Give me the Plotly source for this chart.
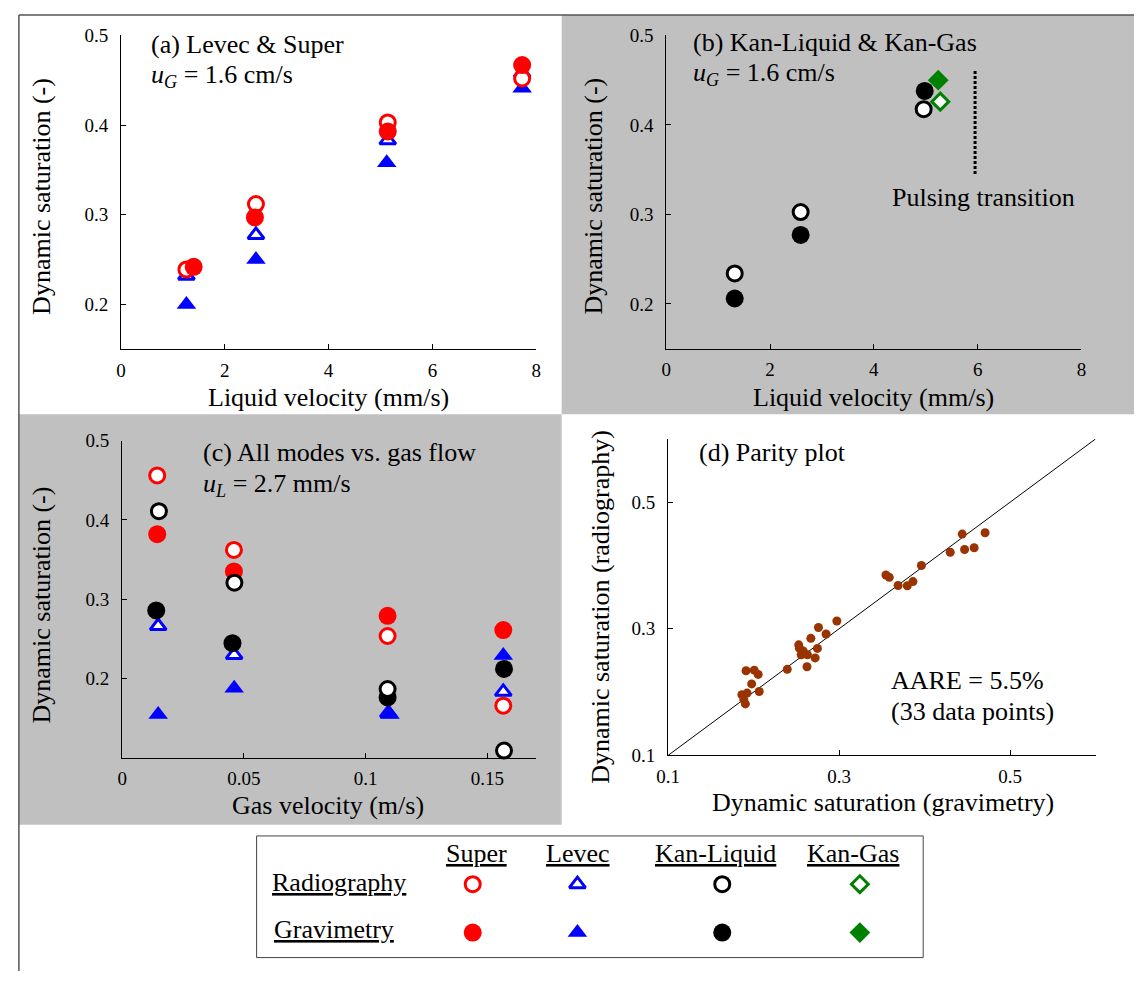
import plotly.graph_objects as go

W, H = 1139, 982
FONT = "Liberation Serif, Times New Roman, serif"

RED, BLUE, BLACK, GREEN, BROWN = "#ff0000", "#0000ff", "#000000", "#008000", "#993300"
GRAY = "#c0c0c0"

# ---------------- Panel (a): Levec & Super, uG = 1.6 cm/s ----------------
a_super_rad_x = [1.26, 2.60, 5.14, 7.73]
a_super_rad_y = [0.239, 0.312, 0.403, 0.452]
a_super_grav_x = [1.40, 2.58, 5.14, 7.73]
a_super_grav_y = [0.242, 0.297, 0.393, 0.467]
a_levec_rad_x = [1.26, 2.60, 5.14, 7.73]
a_levec_rad_y = [0.232, 0.2775, 0.383, 0.458]
a_levec_grav_x = [1.26, 2.60, 5.12, 7.73]
a_levec_grav_y = [0.200, 0.250, 0.358, 0.441]

# ---------------- Panel (b): Kan-Liquid & Kan-Gas ----------------
b_kl_rad_x = [1.32, 2.59, 4.96]
b_kl_rad_y = [0.234, 0.3026, 0.4176]
b_kl_grav_x = [1.32, 2.59, 4.98]
b_kl_grav_y = [0.206, 0.277, 0.438]
b_kg_rad_x = [5.28]
b_kg_rad_y = [0.426]
b_kg_grav_x = [5.24]
b_kg_grav_y = [0.450]
b_pulse_x = [5.95, 5.95]
b_pulse_y = [0.345, 0.462]

# ---------------- Panel (c): all modes vs gas flow, uL = 2.7 mm/s ----------------
c_super_rad_x = [0.0144, 0.0459, 0.109, 0.1565]
c_super_rad_y = [0.456, 0.362, 0.2535, 0.1656]
c_super_grav_x = [0.0144, 0.0459, 0.109, 0.1565]
c_super_grav_y = [0.382, 0.335, 0.279, 0.261]
c_kl_rad_x = [0.0151, 0.0461, 0.109, 0.1568]
c_kl_rad_y = [0.411, 0.3207, 0.1866, 0.109]
c_kl_grav_x = [0.0140, 0.0453, 0.109, 0.1568]
c_kl_grav_y = [0.2857, 0.2444, 0.176, 0.212]
c_levec_rad_x = [0.0148, 0.0460, 0.1093, 0.1565]
c_levec_rad_y = [0.266, 0.2296, 0.156, 0.183]
c_levec_grav_x = [0.0148, 0.0460, 0.1100, 0.1565]
c_levec_grav_y = [0.1545, 0.1875, 0.1545, 0.229]

# ---------------- Panel (d): parity plot ----------------
d_grav = [0.4708, 0.444, 0.430, 0.4468, 0.458, 0.3963, 0.3548, 0.3587, 0.369, 0.3798, 0.3864,
          0.2974, 0.2759, 0.2848, 0.2670, 0.2747, 0.2528, 0.2536, 0.2557, 0.2630, 0.2720, 0.2625, 0.2394, 0.2580,
          0.1912, 0.2008, 0.2054, 0.1978, 0.2066, 0.1863, 0.1924, 0.1886, 0.1904]
d_rad = [0.4518, 0.4497, 0.421, 0.4254, 0.428, 0.400, 0.385, 0.3813, 0.3684, 0.368, 0.3746,
         0.3124, 0.302, 0.2918, 0.2850, 0.2690, 0.2747, 0.2694, 0.2590, 0.2590, 0.2540, 0.2400, 0.2360, 0.2650,
         0.2337, 0.2347, 0.2280, 0.2130, 0.2010, 0.1960, 0.1985, 0.1880, 0.1814]
d_line = [0.1, 0.6]

# ---------------- Legend table ----------------
leg_cols = ["Super", "Levec", "Kan-Liquid", "Kan-Gas"]
leg_rows = ["Radiography", "Gravimetry"]

def fx(p):
    return p / W

def fy(p):
    return 1 - p / H

fig = go.Figure()

OPEN_LW = 3

def add(x, y, sym, color, filled, size, xa, ya, name):
    if filled:
        marker = dict(symbol=sym, size=size, color=color, line=dict(width=0))
    else:
        marker = dict(symbol=sym, size=size, color="white", line=dict(width=OPEN_LW, color=color))
    fig.add_trace(go.Scatter(x=x, y=y, mode="markers", marker=marker, name=name,
                             xaxis=xa, yaxis=ya, cliponaxis=False, showlegend=False))

CIRC_F, CIRC_O = 18, 15
TRI_F, TRI_O = 17, 14
DIA_F, DIA_O = 16, 13

# (a)
add(a_levec_rad_x, a_levec_rad_y, "triangle-up", BLUE, False, TRI_O, "x", "y", "Levec radiography")
add(a_levec_grav_x, a_levec_grav_y, "triangle-up", BLUE, True, TRI_F, "x", "y", "Levec gravimetry")
add(a_super_rad_x, a_super_rad_y, "circle", RED, False, CIRC_O, "x", "y", "Super radiography")
add(a_super_grav_x, a_super_grav_y, "circle", RED, True, CIRC_F, "x", "y", "Super gravimetry")

# (b)
fig.add_trace(go.Scatter(x=b_pulse_x, y=b_pulse_y, mode="lines", xaxis="x2", yaxis="y2",
                         line=dict(color="black", width=3, dash="3px,2px"), showlegend=False))
add(b_kl_grav_x, b_kl_grav_y, "circle", BLACK, True, CIRC_F, "x2", "y2", "Kan-Liquid gravimetry")
add(b_kl_rad_x, b_kl_rad_y, "circle", BLACK, False, CIRC_O, "x2", "y2", "Kan-Liquid radiography")
add(b_kg_grav_x, b_kg_grav_y, "diamond", GREEN, True, DIA_F, "x2", "y2", "Kan-Gas gravimetry")
add(b_kg_rad_x, b_kg_rad_y, "diamond", GREEN, False, DIA_O, "x2", "y2", "Kan-Gas radiography")

# (c)
add(c_levec_rad_x, c_levec_rad_y, "triangle-up", BLUE, False, TRI_O, "x3", "y3", "Levec radiography")
add(c_levec_grav_x, c_levec_grav_y, "triangle-up", BLUE, True, TRI_F, "x3", "y3", "Levec gravimetry")
add(c_super_grav_x, c_super_grav_y, "circle", RED, True, CIRC_F, "x3", "y3", "Super gravimetry")
add(c_super_rad_x, c_super_rad_y, "circle", RED, False, CIRC_O, "x3", "y3", "Super radiography")
add(c_kl_grav_x, c_kl_grav_y, "circle", BLACK, True, CIRC_F, "x3", "y3", "Kan-Liquid gravimetry")
add(c_kl_rad_x, c_kl_rad_y, "circle", BLACK, False, CIRC_O, "x3", "y3", "Kan-Liquid radiography")

# (d)
fig.add_trace(go.Scatter(x=d_line, y=d_line, mode="lines", xaxis="x4", yaxis="y4",
                         line=dict(color="black", width=1), showlegend=False))
fig.add_trace(go.Scatter(x=d_grav, y=d_rad, mode="markers", xaxis="x4", yaxis="y4",
                         marker=dict(size=9, color=BROWN), showlegend=False, cliponaxis=False))

# legend table markers (hidden pixel axis x5/y5)
leg_col_x = [467.7, 574.0, 721.0, 860.7]
leg_row_y = [893.3, 942.7]
leg_syms = ["circle", "triangle-up", "circle", "diamond"]
leg_colors = [RED, BLUE, BLACK, GREEN]
leg_sizes_open = [CIRC_O, TRI_O, CIRC_O, DIA_O]
leg_sizes_fill = [CIRC_F, TRI_F, CIRC_F, DIA_F]
for i in range(4):
    add([leg_col_x[i]], [leg_row_y[0]], leg_syms[i], leg_colors[i], False, leg_sizes_open[i], "x5", "y5",
        leg_cols[i] + " " + leg_rows[0])
    add([leg_col_x[i]], [leg_row_y[1]], leg_syms[i], leg_colors[i], True, leg_sizes_fill[i], "x5", "y5",
        leg_cols[i] + " " + leg_rows[1])

axis_common = dict(showline=True, linecolor="black", linewidth=1, ticks="inside", ticklen=5,
                   tickwidth=1, tickcolor="black", showgrid=False, zeroline=False,
                   tickfont=dict(size=19, family=FONT, color="black"))

def ax(domain, rng, tv, anchor, standoff, tt=None):
    d = dict(axis_common, domain=domain, range=rng, tickvals=tv, anchor=anchor,
             ticklabelstandoff=standoff)
    if tt is not None:
        d["ticktext"] = tt
    return d

XS, YS = 4, 8

layout = dict(
    width=W, height=H, margin=dict(l=0, r=0, t=0, b=0),
    paper_bgcolor="white", plot_bgcolor="rgba(0,0,0,0)", showlegend=False,
    font=dict(family=FONT, color="black"),
    xaxis=ax([fx(110.7), fx(532.1)], [0, 8], [0, 2, 4, 6, 8], "y", XS),
    yaxis=ax([fy(346.7), fy(26)], [0.15, 0.5], [0.2, 0.3, 0.4, 0.5], "x", YS),
    xaxis2=ax([fx(664.1), fx(1085.7)], [0, 8], [0, 2, 4, 6, 8], "y2", XS),
    yaxis2=ax([fy(346), fy(26)], [0.15, 0.5], [0.2, 0.3, 0.4, 0.5], "x2", YS),
    xaxis3=ax([fx(111.8), fx(532.1)], [0, 0.17], [0, 0.05, 0.1, 0.15], "y3", XS,
              ["0", "0.05", "0.1", "0.15"]),
    yaxis3=ax([fy(764), fy(440)], [0.1, 0.5], [0.2, 0.3, 0.4, 0.5], "x3", YS),
    xaxis4=ax([fx(666), fx(1100)], [0.1, 0.6], [0.1, 0.3, 0.5], "y4", XS),
    yaxis4=ax([fy(761.7), fy(438.3)], [0.1, 0.6], [0.1, 0.3, 0.5], "x4", YS),
    xaxis5=dict(domain=[0, 1], range=[0, W], visible=False, anchor="y5"),
    yaxis5=dict(domain=[0, 1], range=[H, 0], visible=False, anchor="x5"),
)

shapes = [
    # gray panel backgrounds
    dict(type="rect", xref="paper", yref="paper", x0=fx(558), x1=1, y0=fy(413), y1=fy(5),
         fillcolor=GRAY, line=dict(width=0), layer="below"),
    dict(type="rect", xref="paper", yref="paper", x0=fx(7), x1=fx(558), y0=fy(832.5), y1=fy(413),
         fillcolor=GRAY, line=dict(width=0), layer="below"),
    # outer frame lines
    dict(type="line", xref="paper", yref="paper", x0=fx(7), x1=1, y0=fy(5), y1=fy(5),
         line=dict(color="#555555", width=1.5)),
    dict(type="line", xref="paper", yref="paper", x0=fx(7), x1=fx(7), y0=fy(5), y1=0,
         line=dict(color="#555555", width=1.5)),
    # legend box
    dict(type="rect", xref="paper", yref="paper", x0=fx(248.3), x1=fx(925), y0=fy(968.3), y1=fy(844),
         fillcolor="rgba(0,0,0,0)", line=dict(color="#444444", width=1)),
]

ann = []

def text(x, y, s, size=26, xanchor="left", angle=0):
    ann.append(dict(x=fx(x), y=fy(y), xref="paper", yref="paper", text=s, showarrow=False,
                    xanchor=xanchor, yanchor="middle", textangle=angle,
                    font=dict(size=size, family=FONT, color="black")))

# panel texts
text(138.6, 35, "(a) Levec &amp; Super")
text(138.6, 67, "<i>u</i><sub><i>G</i></sub> = 1.6 cm/s")
text(689, 33, "(b) Kan-Liquid &amp; Kan-Gas")
text(689, 65, "<i>u</i><sub><i>G</i></sub> = 1.6 cm/s")
text(986, 191.7, "Pulsing transition", xanchor="center")
text(192, 451.7, "(c) All modes vs. gas flow")
text(192, 485, "<i>u</i><sub><i>L</i></sub> = 2.7 mm/s")
text(695.8, 451.7, "(d) Parity plot")
text(890.2, 685, "AARE = 5.5%")
text(890.2, 716.7, "(33 data points)")

# axis titles
text(321, 396, "Liquid velocity (mm/s)", xanchor="center")
text(30.4, 190, "Dynamic saturation (-)", xanchor="center", angle=-90)
text(874.4, 396, "Liquid velocity (mm/s)", xanchor="center")
text(590.4, 190, "Dynamic saturation (-)", xanchor="center", angle=-90)
text(320.5, 812.5, "Gas velocity (m/s)", xanchor="center")
text(30.4, 607.5, "Dynamic saturation (-)", xanchor="center", angle=-90)
text(883.7, 809.5, "Dynamic saturation (gravimetry)", xanchor="center")
text(597.8, 610, "Dynamic saturation (radiography)", xanchor="center", angle=-90)

# legend table text
leg_head_x = [471.7, 574.3, 713.7, 854.2]
for name, x in zip(leg_cols, leg_head_x):
    text(x, 861.7, "<u>" + name + "</u>", xanchor="center")
text(331.7, 892, "<u>" + leg_rows[0] + "</u>", xanchor="center")
text(327, 940, "<u>" + leg_rows[1] + "</u>", xanchor="center")

layout["shapes"] = shapes
layout["annotations"] = ann
fig.update_layout(**layout)

fig.write_html("out.html")
